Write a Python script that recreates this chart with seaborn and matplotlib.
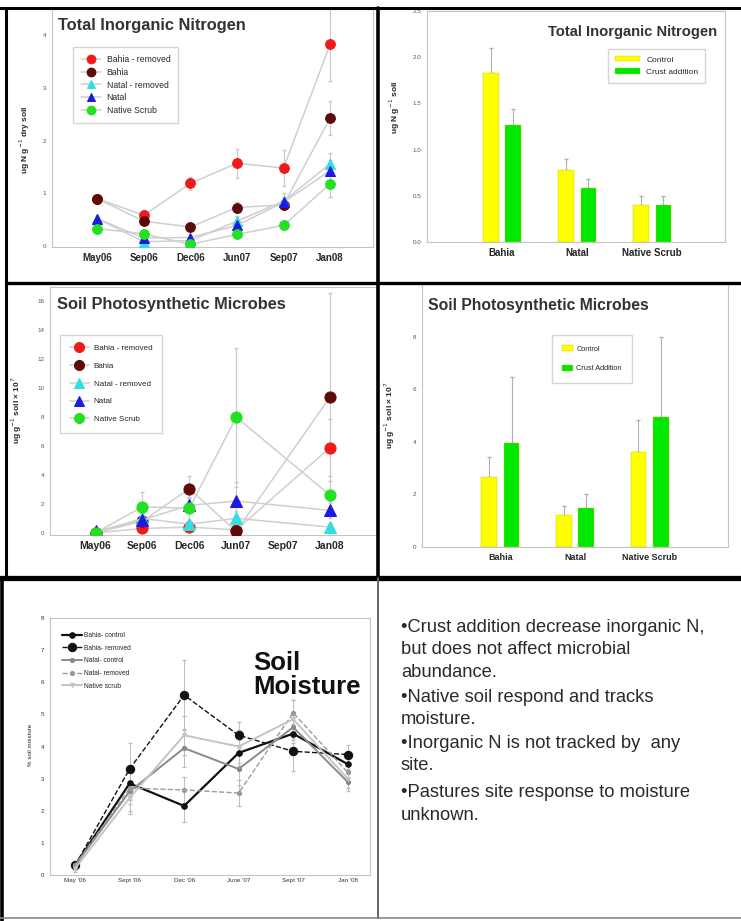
import numpy as np
import pandas as pd
import matplotlib
matplotlib.use("Agg")
import matplotlib.pyplot as plt
from matplotlib.lines import Line2D
import seaborn as sns

# ---------------- data ----------------
months_a = ["May06", "Sep06", "Dec06", "Jun07", "Sep07", "Jan08"]
series_a = ["Bahia - removed", "Bahia", "Natal - removed", "Natal", "Native Scrub"]

tin_bahia_rem = [0.90, 0.58, 1.19, 1.57, 1.48, 3.83]
tin_bahia = [0.90, 0.47, 0.36, 0.73, 0.78, 2.43]
tin_natal_rem = [0.52, 0.08, 0.10, 0.47, 0.85, 1.56]
tin_natal = [0.52, 0.15, 0.16, 0.39, 0.83, 1.43]
tin_scrub = [0.33, 0.23, 0.03, 0.22, 0.39, 1.18]
tin_err_bahia_rem = [0.05, 0.10, 0.12, 0.28, 0.35, 0.70]
tin_err_bahia = [0.05, 0.08, 0.08, 0.10, 0.10, 0.33]
tin_err_natal_rem = [0.05, 0.05, 0.05, 0.10, 0.15, 0.20]
tin_err_natal = [0.05, 0.05, 0.05, 0.10, 0.10, 0.20]
tin_err_scrub = [0.05, 0.05, 0.03, 0.05, 0.08, 0.25]

mic_bahia_rem = [0.0, 0.3, 0.4, 0.2, np.nan, 5.9]
mic_bahia = [0.0, 0.8, 3.05, 0.1, np.nan, 9.4]
mic_natal_rem = [0.0, 1.0, 0.6, 1.0, np.nan, 0.4]
mic_natal = [0.1, 0.9, 1.9, 2.2, np.nan, 1.55]
mic_scrub = [0.0, 1.8, 1.7, 8.0, np.nan, 2.6]
mic_err_bahia_rem = [0.1, 0.3, 0.3, 0.3, np.nan, 2.0]
mic_err_bahia = [0.1, 0.5, 0.9, 0.3, np.nan, 7.2]
mic_err_natal_rem = [0.1, 0.4, 0.3, 0.5, np.nan, 0.3]
mic_err_natal = [0.2, 0.5, 0.5, 1.3, np.nan, 0.5]
mic_err_scrub = [0.1, 1.0, 0.8, 4.8, np.nan, 1.0]

sites = ["Bahia", "Natal", "Native Scrub"]
tin_control = [1.83, 0.78, 0.40]
tin_crust = [1.27, 0.58, 0.40]
tin_control_err = [0.27, 0.12, 0.10]
tin_crust_err = [0.17, 0.10, 0.10]

mic_control = [2.67, 1.20, 3.62]
mic_crust = [3.97, 1.49, 4.93]
mic_control_err = [0.76, 0.36, 1.21]
mic_crust_err = [2.51, 0.54, 3.07]

months_m = ["May '06", "Sept '06", "Dec '06", "June '07", "Sept '07", "Jan '08"]
series_m = ["Bahia- control", "Bahia- removed", "Natal- control", "Natal- removed", "Native scrub"]
moist_bahia_ctl = [0.30, 2.85, 2.15, 3.80, 4.40, 3.45]
moist_bahia_rem = [0.30, 3.30, 5.60, 4.35, 3.85, 3.75]
moist_natal_ctl = [0.30, 2.60, 3.95, 3.30, 4.60, 2.90]
moist_natal_rem = [0.30, 2.70, 2.65, 2.55, 5.05, 3.20]
moist_scrub = [0.20, 2.40, 4.35, 4.00, 4.85, 3.00]
moist_err = [[0.1, 0.5, 0.5, 0.4, 0.3, 0.2],
             [0.1, 0.8, 1.1, 0.4, 0.6, 0.3],
             [0.1, 0.6, 0.6, 0.5, 0.4, 0.3],
             [0.1, 0.5, 0.4, 0.4, 0.4, 0.3],
             [0.1, 0.5, 0.6, 0.5, 0.6, 0.3]]

notes = ["\u2022Crust addition decrease inorganic N,",
         "but does not affect microbial",
         "abundance.",
         "\u2022Native soil respond and tracks",
         "moisture.",
         "\u2022Inorganic N is not tracked by  any",
         "site.",
         "\u2022Pastures site response to moisture",
         "unknown."]

# ---------------- style ----------------
sns.set_style("white")
plt.rcParams["font.family"] = ["Liberation Sans", "DejaVu Sans"]

W, H = 741, 921
fig = plt.figure(figsize=(W / 100, H / 100), dpi=100)


def box(l, t, r, b):
    return [l / W, 1 - b / H, (r - l) / W, (b - t) / H]


def fpt(x, y):
    return (x / W, 1 - y / H)


def style_axes(ax, spine="#c4c4c4"):
    for s in ax.spines.values():
        s.set_color(spine)
        s.set_linewidth(0.8)
    ax.tick_params(axis="both", length=2, width=0.6, color="#999999", pad=2)
    ax.set_xlabel("")
    ax.set_ylabel("")


colors_a = ["#f01a1a", "#5c0a0a", "#30e0e0", "#1a1ae0", "#22e022"]
markers_a = ["o", "o", "^", "^", "o"]
bar_colors = ["#ffff00", "#00e800"]

# ---------------- panel 1: TIN time series ----------------
ax1 = fig.add_axes(box(52, 9, 373, 247))
x_idx = np.arange(len(months_a))
tin_vals = [tin_bahia_rem, tin_bahia, tin_natal_rem, tin_natal, tin_scrub]
tin_errs = [tin_err_bahia_rem, tin_err_bahia, tin_err_natal_rem, tin_err_natal, tin_err_scrub]
for name, vals, errs, c, m in zip(series_a, tin_vals, tin_errs, colors_a, markers_a):
    ax1.errorbar(x_idx, vals, yerr=errs, fmt="none", ecolor="#c8c8c8", elinewidth=0.8, capsize=1.5, zorder=1)
for name, vals, errs, c, m in zip(series_a, tin_vals, tin_errs, colors_a, markers_a):
    sns.lineplot(x=x_idx, y=vals, ax=ax1, color="#cfcfcf", lw=1.1, marker=m, markersize=7,
                 markerfacecolor=c, markeredgecolor=c, label=name, errorbar=None, zorder=3)
ax1.set_xlim(-0.97, 5.92)
ax1.set_ylim(-0.02, 4.5)
ax1.set_xticks(x_idx)
ax1.set_xticklabels(months_a, fontsize=7, fontweight="bold")
ax1.set_yticks([0, 1, 2, 3, 4])
ax1.set_yticklabels(["0", "1", "2", "3", "4"], fontsize=4.5, color="#555555")
style_axes(ax1)
ax1.text(0.02, 0.93, "Total Inorganic Nitrogen", transform=ax1.transAxes, fontsize=11.8,
         fontweight="bold", color="#333333", ha="left", va="center")
ax1.legend(loc="upper left", bbox_to_anchor=fpt(73, 47), bbox_transform=fig.transFigure,
           fontsize=6.2, frameon=True, fancybox=False, edgecolor="#cccccc", borderaxespad=0,
           handlelength=2.4, labelspacing=0.45, borderpad=0.9, markerscale=0.9, handletextpad=0.6)
fig.text(25 / W, 1 - 140 / H, "ug N g$^{-1}$ dry soil", rotation=90, ha="center", va="center",
         fontsize=6, fontweight="bold")

# ---------------- panel 2: TIN bars ----------------
ax2 = fig.add_axes(box(427, 11, 725, 242))
df2 = pd.DataFrame({"site": sites * 2,
                    "treat": ["Control"] * 3 + ["Crust addition"] * 3,
                    "val": tin_control + tin_crust})
sns.barplot(data=df2, x="site", y="val", hue="treat", palette=bar_colors, saturation=1,
            width=0.6, gap=0.3, errorbar=None, ax=ax2, edgecolor="#c8c800", linewidth=0.3)
for cont, errs in zip(ax2.containers, [tin_control_err, tin_crust_err]):
    xs = [p.get_x() + p.get_width() / 2 for p in cont]
    hs = [p.get_height() for p in cont]
    ax2.errorbar(xs, hs, yerr=[np.zeros(len(errs)), errs], fmt="none", ecolor="#b0b0b0",
                 elinewidth=0.8, capsize=1.5, zorder=0)
ax2.set_xlim(-1.0, 2.97)
ax2.set_ylim(0, 2.5)
ax2.set_yticks([0, 0.5, 1.0, 1.5, 2.0, 2.5])
ax2.set_yticklabels(["0.0", "0.5", "1.0", "1.5", "2.0", "2.5"], fontsize=4.5, color="#555555")
ax2.set_xticks(range(3))
ax2.set_xticklabels(sites, fontsize=7, fontweight="bold")
style_axes(ax2)
ax2.text(0.975, 0.91, "Total Inorganic Nitrogen", transform=ax2.transAxes, fontsize=10.6,
         fontweight="bold", color="#333333", ha="right", va="center")
sns.move_legend(ax2, "upper left", bbox_to_anchor=fpt(608, 49), bbox_transform=fig.transFigure,
                title=None, fontsize=6, frameon=True, fancybox=False, edgecolor="#cccccc",
                borderaxespad=0, handlelength=3.0, handleheight=0.7, labelspacing=0.6, borderpad=0.8)
fig.text(395 / W, 1 - 107 / H, "ug N g$^{-1}$ soil", rotation=90, ha="center", va="center",
         fontsize=6, fontweight="bold")

# ---------------- panel 3: microbes time series ----------------
ax3 = fig.add_axes(box(50, 287, 377, 535))
mic_vals = [mic_bahia_rem, mic_bahia, mic_natal_rem, mic_natal, mic_scrub]
mic_errs = [mic_err_bahia_rem, mic_err_bahia, mic_err_natal_rem, mic_err_natal, mic_err_scrub]
for name, vals, errs, c, m in zip(series_a, mic_vals, mic_errs, colors_a, markers_a):
    ax3.errorbar(x_idx, vals, yerr=errs, fmt="none", ecolor="#c8c8c8", elinewidth=0.8, capsize=1.5, zorder=1)
for name, vals, errs, c, m in zip(series_a, mic_vals, mic_errs, colors_a, markers_a):
    sns.lineplot(x=x_idx, y=vals, ax=ax3, color="#cfcfcf", lw=1.1, marker=m, markersize=8,
                 markerfacecolor=c, markeredgecolor=c, label=name, errorbar=None, zorder=3)
ax3.set_xlim(-0.97, 6.0)
ax3.set_ylim(-0.15, 17)
ax3.set_xticks(x_idx)
ax3.set_xticklabels(months_a, fontsize=7.5, fontweight="bold")
ax3.set_yticks(range(0, 17, 2))
ax3.set_yticklabels([str(v) for v in range(0, 17, 2)], fontsize=4.5, color="#555555")
style_axes(ax3)
ax3.text(0.02, 0.93, "Soil Photosynthetic Microbes", transform=ax3.transAxes, fontsize=11.8,
         fontweight="bold", color="#333333", ha="left", va="center")
ax3.legend(loc="upper left", bbox_to_anchor=fpt(60, 335), bbox_transform=fig.transFigure,
           fontsize=5.8, frameon=True, fancybox=False, edgecolor="#cccccc", borderaxespad=0,
           handlelength=2.4, labelspacing=1.25, borderpad=1.2, markerscale=0.9, handletextpad=0.6)
fig.text(17 / W, 1 - 410 / H, "ug g$^{-1}$ soil \u00d7 10$^{7}$", rotation=90, ha="center", va="center",
         fontsize=6, fontweight="bold")

# ---------------- panel 4: microbes bars ----------------
ax4 = fig.add_axes(box(422, 284, 728, 547))
df4 = pd.DataFrame({"site": sites * 2,
                    "treat": ["Control"] * 3 + ["Crust Addition"] * 3,
                    "val": mic_control + mic_crust})
sns.barplot(data=df4, x="site", y="val", hue="treat", palette=bar_colors, saturation=1,
            width=0.6, gap=0.3, errorbar=None, ax=ax4, edgecolor="#c8c800", linewidth=0.3)
for cont, errs in zip(ax4.containers, [mic_control_err, mic_crust_err]):
    xs = [p.get_x() + p.get_width() / 2 for p in cont]
    hs = [p.get_height() for p in cont]
    ax4.errorbar(xs, hs, yerr=[np.zeros(len(errs)), errs], fmt="none", ecolor="#b0b0b0",
                 elinewidth=0.8, capsize=1.5, zorder=0)
ax4.set_xlim(-1.05, 3.05)
ax4.set_ylim(0, 10)
ax4.set_yticks([0, 2, 4, 6, 8])
ax4.set_yticklabels(["0", "2", "4", "6", "8"], fontsize=4.5, color="#555555")
ax4.set_xticks(range(3))
ax4.set_xticklabels(sites, fontsize=6.5, fontweight="bold")
style_axes(ax4)
ax4.text(0.02, 0.92, "Soil Photosynthetic Microbes", transform=ax4.transAxes, fontsize=11.3,
         fontweight="bold", color="#333333", ha="left", va="center")
sns.move_legend(ax4, "upper left", bbox_to_anchor=fpt(552, 335), bbox_transform=fig.transFigure,
                title=None, fontsize=5.3, frameon=True, fancybox=False, edgecolor="#cccccc",
                borderaxespad=0, handlelength=1.5, handleheight=0.9, labelspacing=1.6, borderpad=1.4,
                handletextpad=0.4)
fig.text(390 / W, 1 - 415 / H, "ug g$^{-1}$ soil \u00d7 10$^{7}$", rotation=90, ha="center", va="center",
         fontsize=6, fontweight="bold")

# ---------------- panel 5: soil moisture ----------------
ax5 = fig.add_axes(box(50, 618, 370, 875))
moist_vals = [moist_bahia_ctl, moist_bahia_rem, moist_natal_ctl, moist_natal_rem, moist_scrub]
m_colors = ["#111111", "#111111", "#8a8a8a", "#9a9a9a", "#c4c4c4"]
m_ls = ["-", "--", "-", "--", "-"]
m_lw = [1.6, 1.0, 1.4, 1.0, 1.4]
m_mk = ["o", "o", "o", "o", "v"]
m_ms = [4, 6, 3, 3, 3]
for name, vals, errs, c in zip(series_m, moist_vals, moist_err, m_colors):
    ax5.errorbar(x_idx, vals, yerr=errs, fmt="none", ecolor="#bdbdbd", elinewidth=0.7, capsize=1.5,
                 linestyle=":", zorder=1)
for name, vals, c, ls, lw, mk, ms in zip(series_m, moist_vals, m_colors, m_ls, m_lw, m_mk, m_ms):
    sns.lineplot(x=x_idx, y=vals, ax=ax5, color=c, lw=lw, linestyle=ls, marker=mk, markersize=ms,
                 markerfacecolor=c, markeredgecolor=c, label=name, errorbar=None, zorder=3)
ax5.set_xlim(-0.46, 5.41)
ax5.set_ylim(0, 8)
ax5.set_xticks(x_idx)
ax5.set_xticklabels(months_m, fontsize=4.5, color="#333333")
ax5.set_xticks(np.arange(0.5, 5, 1), minor=True)
ax5.set_yticks(range(0, 9))
ax5.set_yticklabels([str(v) for v in range(0, 9)], fontsize=4.5, color="#333333")
style_axes(ax5)
ax5.tick_params(axis="x", which="major", length=0)
ax5.tick_params(axis="x", which="minor", length=2, color="#999999")
ax5.text(0.635, 0.78, "Soil\nMoisture", transform=ax5.transAxes, fontsize=18.5,
         fontweight="bold", color="#111111", ha="left", va="center", linespacing=1.0)
ax5.legend(loc="upper left", bbox_to_anchor=fpt(60, 630), bbox_transform=fig.transFigure,
           fontsize=4.8, frameon=False, borderaxespad=0, handlelength=3.0, labelspacing=0.85,
           borderpad=0.3, handletextpad=0.3)
fig.text(30 / W, 1 - 745 / H, "% soil moisture", rotation=90, ha="center", va="center",
         fontsize=4.5)

# ---------------- panel 6: notes ----------------
note_y = [628, 650, 672, 697, 719, 743, 765, 792, 815]
for yy, line in zip(note_y, notes):
    fig.text(401 / W, 1 - yy / H, line, fontsize=13.2, color="#2a2a2a", ha="left", va="center")

# ---------------- frame lines ----------------
def hline(y, x0, x1, lw, c="black"):
    fig.add_artist(Line2D([x0 / W, x1 / W], [1 - y / H, 1 - y / H], lw=lw, color=c,
                          transform=fig.transFigure))


def vline(x, y0, y1, lw, c="black"):
    fig.add_artist(Line2D([x / W, x / W], [1 - y0 / H, 1 - y1 / H], lw=lw, color=c,
                          transform=fig.transFigure))


hline(8, 0, 741, 2.2)
vline(6, 8, 578, 2.2)
vline(378, 8, 578, 2.6)
hline(283, 6, 741, 2.4)
hline(578, 0, 741, 3.8)
vline(2, 578, 921, 2.6)
vline(378, 578, 918, 1.4, "#666666")
hline(918, 0, 741, 1.2, "#888888")

fig.savefig("out.png", dpi=100)
